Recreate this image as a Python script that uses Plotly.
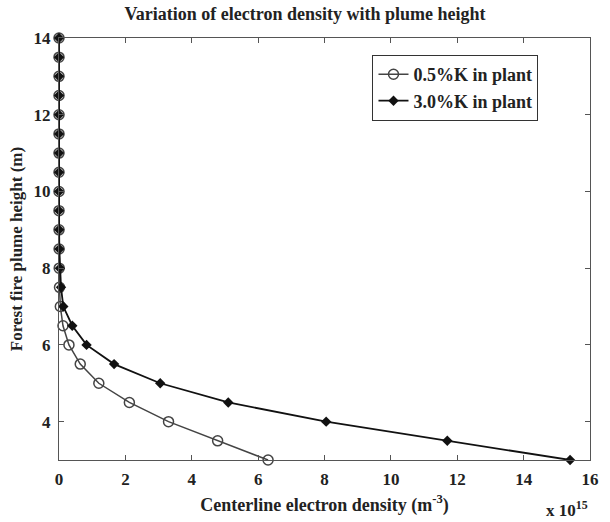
import plotly.graph_objects as go

heights = [3, 3.5, 4, 4.5, 5, 5.5, 6, 6.5, 7, 7.5, 8, 8.5, 9, 9.5, 10, 10.5, 11, 11.5, 12, 12.5, 13, 13.5, 14]
dens_05 = [6.3, 4.78, 3.3, 2.12, 1.2, 0.64, 0.3, 0.12, 0.04, 0.015, 0.006, 0.003, 0.001, 0, 0, 0, 0, 0, 0, 0, 0, 0, 0]
dens_30 = [15.4, 11.7, 8.05, 5.1, 3.05, 1.66, 0.83, 0.4, 0.13, 0.06, 0.025, 0.01, 0.004, 0.002, 0.001, 0, 0, 0, 0, 0, 0, 0, 0]
names = ["0.5%K in plant", "3.0%K in plant"]

font_serif = "Liberation Serif"
bold16 = dict(family=font_serif, size=17, color="#222", weight="bold")
fig = go.Figure()
fig.add_trace(go.Scatter(x=dens_05, y=heights, mode="lines+markers", name=names[0], cliponaxis=False,
                         line=dict(color="#444444", width=1.5),
                         marker=dict(symbol="circle-open", size=10, color="#444444", line=dict(width=1.5))))
fig.add_trace(go.Scatter(x=dens_30, y=heights, mode="lines+markers", name=names[1], cliponaxis=False,
                         line=dict(color="#111111", width=1.8),
                         marker=dict(symbol="diamond", size=8, color="#111111")))

fig.update_layout(
    width=610, height=522,
    margin=dict(l=59, r=11, t=38, b=60),
    paper_bgcolor="white", plot_bgcolor="white",
    title=dict(text="Variation of electron density with plume height", x=0.5, xanchor="center",
               y=0.985, yanchor="top", font=dict(family=font_serif, size=18, color="#222", weight="bold")),
    font=dict(family=font_serif, color="#222"),
    showlegend=True,
    legend=dict(x=0.59, y=0.96, xanchor="left", yanchor="top", bgcolor="white",
                bordercolor="#333", borderwidth=1.2, font=dict(family=font_serif, size=18, color="#222", weight="bold"),
                tracegroupgap=0, entrywidth=175, entrywidthmode="pixels"),
    xaxis=dict(range=[0, 16], dtick=2, tick0=0, showgrid=False, zeroline=False,
               showline=True, linecolor="#555", linewidth=1.2, mirror="ticks",
               ticks="inside", ticklen=5, tickcolor="#555", ticklabelstandoff=3,
               tickfont=bold16,
               title=dict(text="Centerline electron density (m<sup>-3</sup>)", standoff=10,
                          font=dict(family=font_serif, size=18, color="#222", weight="bold"))),
    yaxis=dict(range=[3, 14], tickvals=[4, 6, 8, 10, 12, 14], showgrid=False, zeroline=False,
               showline=True, linecolor="#555", linewidth=1.2, mirror="ticks",
               ticks="inside", ticklen=5, tickcolor="#555", ticklabelstandoff=4,
               tickfont=bold16,
               title=dict(text="Forest fire plume height (m)", standoff=6,
                          font=dict(family=font_serif, size=17, color="#222", weight="bold"))),
)
fig.add_annotation(text="x 10<sup>15</sup>", xref="paper", yref="paper", x=1.0, y=-0.085,
                   xanchor="right", yanchor="top", showarrow=False,
                   font=dict(family=font_serif, size=17, color="#222", weight="bold"))
fig.write_html("out.html")
